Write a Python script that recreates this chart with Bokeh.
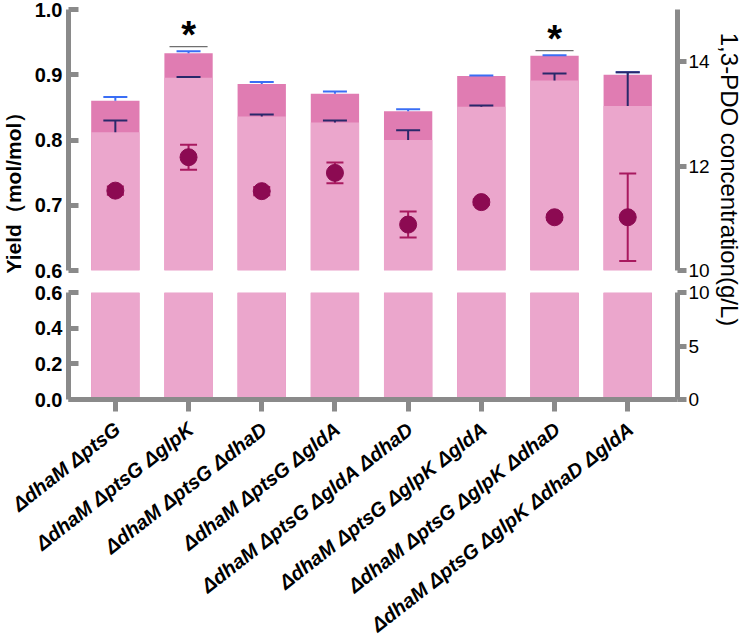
import math

from bokeh.core.properties import value
from bokeh.embed import file_html
from bokeh.layouts import column, row
from bokeh.models import FixedTicker, LinearAxis, NumeralTickFormatter, Range1d
from bokeh.plotting import figure
from bokeh.resources import INLINE

# ---------------------------------------------------------------- data
strains = [
    "ΔdhaM ΔptsG",
    "ΔdhaM ΔptsG ΔglpK",
    "ΔdhaM ΔptsG ΔdhaD",
    "ΔdhaM ΔptsG ΔgldA",
    "ΔdhaM ΔptsG ΔgldA ΔdhaD",
    "ΔdhaM ΔptsG ΔglpK ΔgldA",
    "ΔdhaM ΔptsG ΔglpK ΔdhaD",
    "ΔdhaM ΔptsG ΔglpK ΔdhaD ΔgldA",
]

# taller (dark) bars, yield mol/mol, with upper SD
yield_a = [0.860, 0.933, 0.886, 0.871, 0.844, 0.898, 0.929, 0.900]
yield_a_err = [0.006, 0.003, 0.003, 0.0035, 0.003, 0.001, 0.001, 0.004]

# front (light) bars, yield mol/mol, with upper SD
yield_b = [0.812, 0.8955, 0.836, 0.827, 0.800, 0.851, 0.891, 0.852]
yield_b_err = [0.018, 0.001, 0.003, 0.003, 0.015, 0.002, 0.011, 0.052]

# 1,3-PDO titre (g/L), mean and SD
pdo_conc = [11.53, 12.17, 11.52, 11.87, 10.88, 11.31, 11.02, 11.02]
pdo_err = [0.08, 0.24, 0.08, 0.20, 0.25, 0.05, 0.05, 0.84]

# significance marks: bar index and height of the bracket line (yield units)
sig_index = [1, 6]
sig_line = [0.943, 0.937]

left_ticks_top = [0.6, 0.7, 0.8, 0.9, 1.0]
left_ticks_bottom = [0.0, 0.2, 0.4, 0.6]
right_ticks_top = [10, 12, 14]
right_ticks_bottom = [0, 5, 10]

# ---------------------------------------------------------------- style
FONT = "Liberation Sans"
GREY = "#8a8a8a"
LIGHT = "#eba6cc"
DARK = "#e07cb2"
BLUE = "#3a6ef5"
NAVY = "#29286a"
DOT = "#8c0a52"
DOT_ERR = "#a8195f"

LABEL_W = 28          # column holding the left axis title
TITLE_R_W = 32        # column holding the right axis title
PANEL_W = 744 - LABEL_W - TITLE_R_W
BORDER_L, BORDER_R = 40, 34
X_RANGE = (-0.64, 7.68)
BAR_W = 0.66

TOP_H, TOP_BT, TOP_BB = 281, 9, 11
BOT_H, BOT_BT, BOT_BB = 136, 11, 18
MID_H = TOP_H + BOT_H
STRIP_H = 636 - MID_H

xs = list(range(len(strains)))


def style_axis(ax, bold, size, tick_in, tick_out, standoff):
    ax.axis_line_color = GREY
    ax.axis_line_width = 5
    ax.major_tick_line_color = GREY
    ax.major_tick_line_width = 5
    ax.major_tick_in = tick_in
    ax.major_tick_out = tick_out
    ax.minor_tick_line_color = None
    ax.major_label_text_font = FONT
    ax.major_label_text_font_size = size
    ax.major_label_text_font_style = "bold" if bold else "normal"
    ax.major_label_text_color = "black"
    ax.major_label_standoff = standoff


def panel(height, b_top, b_bottom, y_left, y_right, lticks, rticks, show_x):
    p = figure(
        width=PANEL_W, height=height,
        x_range=Range1d(*X_RANGE), y_range=Range1d(*y_left),
        x_axis_location="below" if show_x else None,
        min_border_left=BORDER_L, min_border_right=BORDER_R,
        min_border_top=b_top, min_border_bottom=b_bottom,
        output_backend="svg", toolbar_location=None,
    )
    p.extra_y_ranges = {"conc": Range1d(*y_right)}
    p.add_layout(LinearAxis(y_range_name="conc"), "right")
    p.grid.visible = False
    p.outline_line_color = None
    p.background_fill_color = "white"
    p.border_fill_color = "white"

    left = p.yaxis[0]
    left.ticker = FixedTicker(ticks=lticks)
    left.formatter = NumeralTickFormatter(format="0.0")
    style_axis(left, True, "20px", 10, 0, 6)

    right = p.yaxis[1]
    right.ticker = FixedTicker(ticks=rticks)
    right.formatter = NumeralTickFormatter(format="0")
    style_axis(right, False, "19px", 0, 9, 2)

    p.vbar(x=xs, top=yield_a, bottom=0, width=BAR_W, fill_color=DARK, line_color=None)
    p.vbar(x=xs, top=yield_b, bottom=0, width=BAR_W, fill_color=LIGHT, line_color=None)
    return p


top = panel(TOP_H, TOP_BT, TOP_BB, (0.6, 1.0), (10, 15),
            left_ticks_top, right_ticks_top, False)
bottom = panel(BOT_H, BOT_BT, BOT_BB, (0.0, 0.6), (0, 10),
               left_ticks_bottom, right_ticks_bottom, True)

xa = bottom.xaxis[0]
xa.ticker = FixedTicker(ticks=xs)
xa.major_label_overrides = {i: "" for i in xs}
style_axis(xa, False, "1px", 0, 12, 0)

# upper error bars of the two bar series
a_hi = [v + e for v, e in zip(yield_a, yield_a_err)]
b_hi = [v + e for v, e in zip(yield_b, yield_b_err)]
top.segment(x0=xs, y0=yield_a, x1=xs, y1=a_hi, line_color=BLUE, line_width=2)
top.scatter(x=xs, y=a_hi, marker="dash", size=24, line_color=BLUE, line_width=2)
top.segment(x0=xs, y0=yield_b, x1=xs, y1=b_hi, line_color=NAVY, line_width=2)
top.scatter(x=xs, y=b_hi, marker="dash", size=24, line_color=NAVY, line_width=2)

# 1,3-PDO titre on the right axis
c_lo = [v - e for v, e in zip(pdo_conc, pdo_err)]
c_hi = [v + e for v, e in zip(pdo_conc, pdo_err)]
top.segment(x0=xs, y0=c_lo, x1=xs, y1=c_hi, line_color=DOT_ERR, line_width=2,
            y_range_name="conc")
top.scatter(x=xs + xs, y=c_lo + c_hi, marker="dash", size=17, line_color=DOT_ERR,
            line_width=2, y_range_name="conc")
top.scatter(x=xs, y=pdo_conc, marker="circle", size=17, fill_color=DOT,
            line_color=DOT, y_range_name="conc")

# significance brackets and asterisks
top.segment(x0=[i - 0.26 for i in sig_index], y0=sig_line,
            x1=[i + 0.26 for i in sig_index], y1=sig_line,
            line_color="#6f6f6f", line_width=1.3)
top.text(x=sig_index, y=sig_line, text=["*"] * len(sig_index),
         text_font=value(FONT), text_font_style="bold", text_font_size="38px",
         text_align="center", text_baseline="alphabetic", y_offset=-12, text_color="black")


def blank(width, height, xr, yr):
    f = figure(width=width, height=height, x_range=Range1d(*xr), y_range=Range1d(*yr),
               x_axis_location=None, y_axis_location=None,
               min_border=0, output_backend="svg", toolbar_location=None)
    f.grid.visible = False
    f.outline_line_color = None
    f.background_fill_color = "white"
    f.border_fill_color = "white"
    return f


# left axis title
left_title = blank(LABEL_W, MID_H, (0, LABEL_W), (MID_H, 0))
left_title.text(x=[13], y=[187], text=["Yield（mol/mol）"], angle=math.pi / 2,
                text_font=value(FONT), text_font_style="bold", text_font_size="21px",
                text_align="center", text_baseline="middle", text_color="black")

# right axis title
right_title = blank(TITLE_R_W, MID_H, (0, TITLE_R_W), (MID_H, 0))
right_title.text(x=[17], y=[179], text=["1,3-PDO concentration(g/L)"], angle=-math.pi / 2,
                 text_font=value(FONT), text_font_size="24px",
                 text_align="center", text_baseline="middle", text_color="black")

# rotated strain names under the x axis, sharing the panels' x scale
frame_w = PANEL_W - BORDER_L - BORDER_R
unit = frame_w / (X_RANGE[1] - X_RANGE[0])
strip_x = (X_RANGE[0] - (LABEL_W + BORDER_L) / unit,
           X_RANGE[1] + (BORDER_R + TITLE_R_W) / unit)
strip = blank(744, STRIP_H, strip_x, (STRIP_H, 0))
strip.text(x=xs, y=9, text=strains, angle=math.radians(38), x_offset=2,
           text_font=value(FONT), text_font_style="bold italic", text_font_size="20px",
           text_align="right", text_baseline="middle", text_color="black")

layout = column(row(left_title, column(top, bottom), right_title), strip)

with open("out.html", "w") as fh:
    fh.write(file_html(layout, INLINE))
